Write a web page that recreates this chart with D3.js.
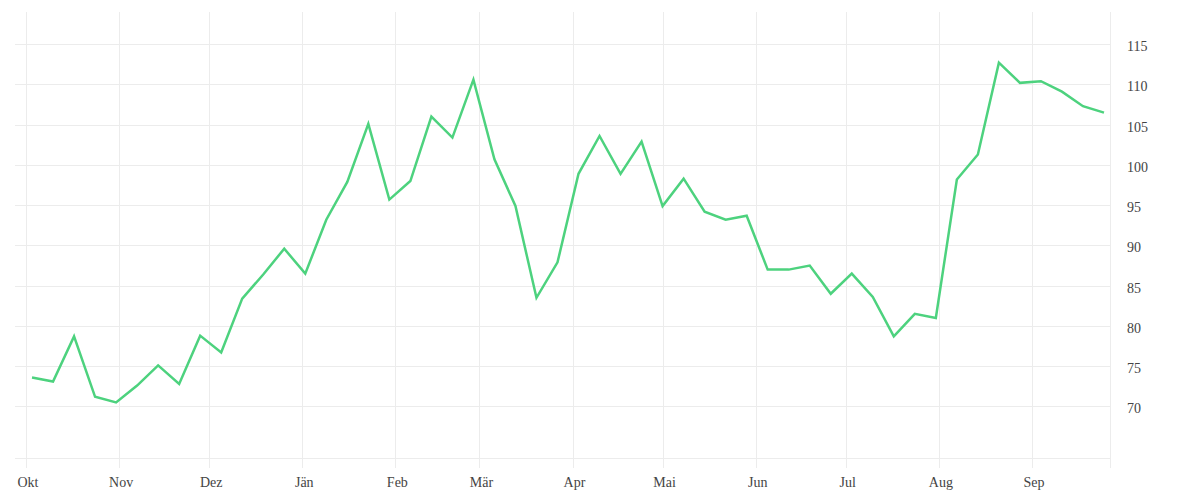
<!DOCTYPE html>
<html>
<head>
<meta charset="utf-8">
<script src="https://cdn.jsdelivr.net/npm/d3@7"></script>
<style>
  html, body { margin: 0; padding: 0; background: #fff; }
  svg { display: block; }
  text { font-family: "Liberation Serif", serif; font-size: 14px; fill: #444; }
</style>
</head>
<body>
<svg id="chart" width="1200" height="500"></svg>
<script>
// ---- data ----
const startDate = "2022-10-03";           // first weekly observation (Monday)
const values = [
  73.6, 73.1, 78.7, 71.2, 70.5, 72.6, 75.1, 72.8, 78.8, 76.7,
  83.4, 86.4, 89.6, 86.5, 93.2, 97.9, 105.1, 95.7, 98.0, 106.0,
  103.4, 110.6, 100.7, 94.9, 83.5, 87.9, 98.9, 103.6, 98.9, 102.9,
  94.9, 98.3, 94.2, 93.2, 93.7, 87.0, 87.0, 87.5, 84.0, 86.5,
  83.6, 78.7, 81.5, 81.0, 98.2, 101.3, 112.7, 110.2, 110.4, 109.1,
  107.3, 106.5
];
const monthLabels = ["Okt","Nov","Dez","Jän","Feb","Mär","Apr","Mai","Jun","Jul","Aug","Sep"];
const yTicks = [70, 75, 80, 85, 90, 95, 100, 105, 110, 115];
const xDomain = ["2022-09-28", "2023-09-27"];
const yDomain = [63.6, 119];

// ---- build ----
(function () {
const parse = d3.utcParse("%Y-%m-%d");
const t0 = parse(startDate);
const data = values.map((v, i) => ({ date: d3.utcDay.offset(t0, 7 * i), value: v }));

const svg = d3.select("#chart");
const mLeft = 17, mRight = 1110, mTop = 12, mBottom = 458;

const x = d3.scaleUtc().domain(xDomain.map(parse)).range([mLeft, mRight]);
const y = d3.scaleLinear().domain(yDomain).range([mBottom, mTop]);

const monthTicks = d3.utcMonth.range(parse("2022-10-01"), parse("2023-09-02"));

const grid = svg.append("g").attr("stroke", "#ececec").attr("stroke-width", 1).attr("shape-rendering", "crispEdges");

// horizontal grid lines
grid.selectAll("line.h").data(yTicks.concat([yDomain[0]])).join("line")
  .attr("class", "h")
  .attr("x1", mLeft - 2).attr("x2", mRight)
  .attr("y1", d => Math.round(y(d)) + 0.5).attr("y2", d => Math.round(y(d)) + 0.5);

// vertical grid lines (month ticks)
grid.selectAll("line.v").data(monthTicks).join("line")
  .attr("class", "v")
  .attr("x1", d => Math.round(x(d)) + 0.5).attr("x2", d => Math.round(x(d)) + 0.5)
  .attr("y1", mTop).attr("y2", mBottom + 10);

// right border line
grid.append("line")
  .attr("x1", mRight + 0.5).attr("x2", mRight + 0.5)
  .attr("y1", mTop).attr("y2", mBottom + 10);

// x axis labels
const xAxis = d3.axisBottom(x).tickValues(monthTicks)
  .tickFormat((d, i) => monthLabels[i]).tickSize(0).tickPadding(0);
const gx = svg.append("g").attr("transform", `translate(0,${mBottom + 19})`).call(xAxis);
gx.select(".domain").remove();
gx.selectAll("text").attr("dy", "0.71em").attr("x", 1.5).attr("fill", "#444")
  .style("font-family", '"Liberation Serif", serif').style("font-size", "14px");

// y axis labels (right)
const yAxis = d3.axisRight(y).tickValues(yTicks).tickSize(0).tickPadding(0);
const gy = svg.append("g").attr("transform", `translate(${mRight + 17},0)`).call(yAxis);
gy.select(".domain").remove();
gy.selectAll("text").attr("dy", "0.45em").attr("fill", "#444")
  .style("font-family", '"Liberation Serif", serif').style("font-size", "14px");

// line
const line = d3.line().x(d => x(d.date)).y(d => y(d.value));
svg.append("path").datum(data)
  .attr("fill", "none")
  .attr("stroke", "#4dd27e")
  .attr("stroke-width", 2.5)
  .attr("stroke-linejoin", "miter")
  .attr("d", line);
})();
</script>
</body>
</html>
